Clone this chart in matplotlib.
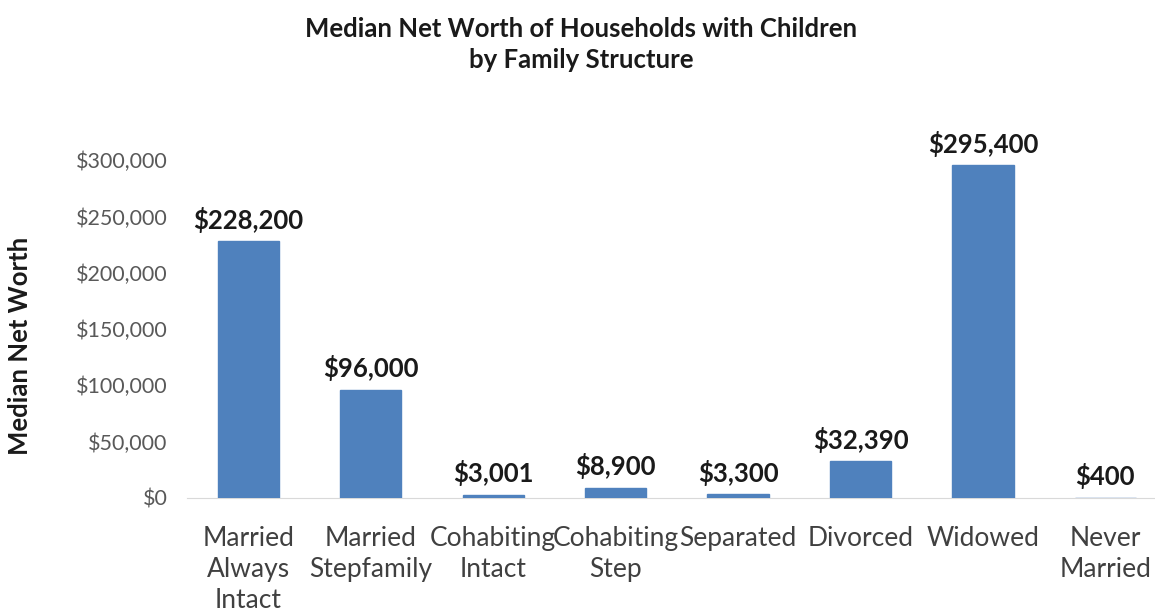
import numpy as np
import matplotlib
matplotlib.use("Agg")
import matplotlib.pyplot as plt

plt.rcParams['font.family'] = ['Lato', 'DejaVu Sans']

# データ
categories = ["Married\nAlways\nIntact", "Married\nStepfamily", "Cohabiting\nIntact",
              "Cohabiting\nStep", "Separated", "Divorced", "Widowed", "Never\nMarried"]
values = [228200, 96000, 3001, 8900, 3300, 32390, 295400, 400]
value_labels = ["$228,200", "$96,000", "$3,001", "$8,900", "$3,300", "$32,390", "$295,400", "$400"]
yticks = [0, 50000, 100000, 150000, 200000, 250000, 300000]

fig = plt.figure(figsize=(11.55, 6.14), dpi=100)
ax = fig.add_axes([0.162, 0.189, 0.848, 0.550])

x = np.arange(len(categories))
ax.bar(x, values, width=0.5, color='#4f81bd', edgecolor='#4f81bd', linewidth=1.0, zorder=3)

for xi, v, lab in zip(x, values, value_labels):
    ax.text(xi, v + 7500, lab, ha='center', va='bottom', fontsize=18.5,
            fontweight='bold', color='#1a1a1a', clip_on=False)

ax.set_xlim(-0.5, len(categories) - 0.5)
ax.set_ylim(0, 300000)
ax.set_yticks(yticks)
ax.set_yticklabels(["${:,}".format(t) for t in yticks], fontsize=15.5, color='#595959')
ax.set_xticks(x)
ax.set_xticklabels(categories, fontsize=19, color='#404040', linespacing=1.3)
ax.tick_params(axis='both', length=0)
ax.tick_params(axis='x', pad=20)
ax.tick_params(axis='y', pad=14)

for s in ['top', 'right', 'left']:
    ax.spines[s].set_visible(False)
ax.spines['bottom'].set_color('#d9d9d9')

ax.set_ylabel("Median Net Worth", fontsize=18.5, fontweight='bold', color='#1a1a1a')
ax.yaxis.set_label_coords(-0.158, 0.45)

fig.text(0.503, 0.927, "Median Net Worth of Households with Children\nby Family Structure",
         ha='center', va='center', fontsize=18.5, fontweight='bold', color='#1a1a1a',
         linespacing=1.35)

plt.savefig("out.png", dpi=100)
